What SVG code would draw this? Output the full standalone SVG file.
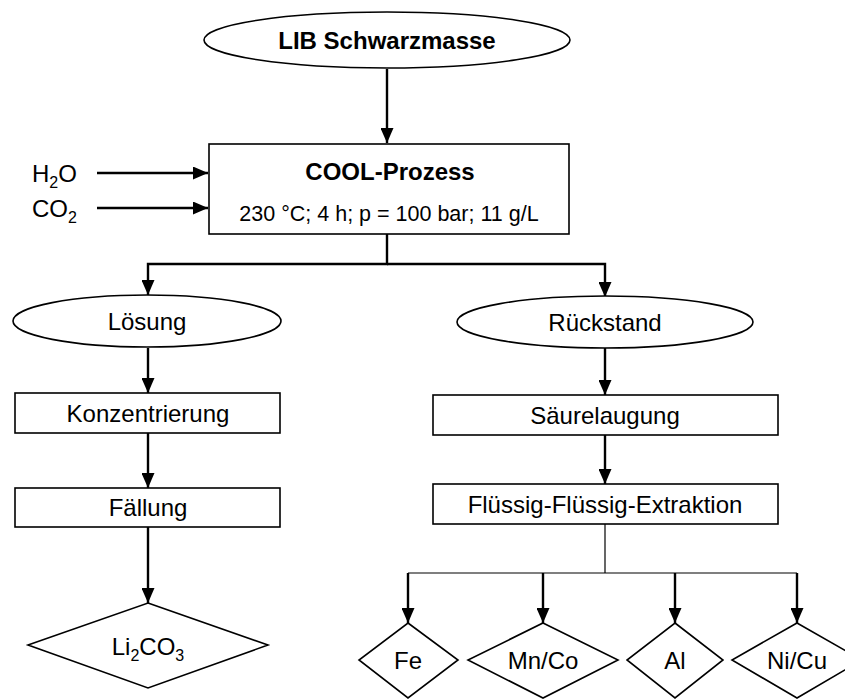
<svg xmlns="http://www.w3.org/2000/svg" width="845" height="700" viewBox="0 0 845 700">
<style>
  .shape { fill: #fff; stroke: #000; stroke-width: 1.6; }
  .t { font-family: "Liberation Sans", Arial, sans-serif; font-size: 24px; fill: #000; text-anchor: middle; }
  .b { font-weight: bold; }
  .s { font-family: "Liberation Sans", Arial, sans-serif; font-size: 21.5px; fill: #000; text-anchor: middle; }
  .l { font-family: "Liberation Sans", Arial, sans-serif; font-size: 24px; fill: #000; }
  .sub { font-size: 16px; }
  .c { fill: none; stroke: #000; stroke-width: 2.4; }
  .thin { fill: none; stroke: #000; stroke-width: 1.2; }
</style>
<defs>
  <marker id="ah" markerWidth="15" markerHeight="13" refX="15" refY="6.5" orient="auto" markerUnits="userSpaceOnUse">
    <path d="M0,0 L15,6.5 L0,13 z" fill="#000"/>
  </marker>
</defs>
<rect width="845" height="700" fill="#fff"/>

<g id="connectors">
  <path class="c" d="M387,69 V143" marker-end="url(#ah)"/>
  <path class="c" d="M97,173 H208" marker-end="url(#ah)"/>
  <path class="c" d="M97,208 H208" marker-end="url(#ah)"/>
  <path class="c" d="M387,234 V264 H148 V295" marker-end="url(#ah)"/>
  <path class="c" d="M387,264 H605 V297" marker-end="url(#ah)"/>
  <path class="c" d="M148,348 V393" marker-end="url(#ah)"/>
  <path class="c" d="M148,433 V488" marker-end="url(#ah)"/>
  <path class="c" d="M148,527 V603" marker-end="url(#ah)"/>
  <path class="c" d="M605,348 V395" marker-end="url(#ah)"/>
  <path class="c" d="M605,435 V484" marker-end="url(#ah)"/>
  <path class="thin" d="M605,524 V573"/>
  <path class="thin" d="M408,573 H797"/>
  <path class="c" d="M408,573 V623" marker-end="url(#ah)"/>
  <path class="c" d="M543,573 V623" marker-end="url(#ah)"/>
  <path class="c" d="M675,573 V623" marker-end="url(#ah)"/>
  <path class="c" d="M797,573 V623" marker-end="url(#ah)"/>
</g>

<g id="inputs">
  <text class="l" x="32" y="182">H<tspan class="sub" dy="6">2</tspan><tspan dy="-6">O</tspan></text>
  <text class="l" x="32" y="217">CO<tspan class="sub" dy="6">2</tspan></text>
</g>

<g id="lib">
  <ellipse class="shape" cx="387" cy="40" rx="183" ry="28"/>
  <text class="t b" x="387" y="49">LIB Schwarzmasse</text>
</g>

<g id="cool">
  <rect class="shape" x="209" y="144" width="360" height="90"/>
  <text class="t b" x="390" y="180">COOL-Prozess</text>
  <text class="s" x="389" y="221">230 °C; 4 h; p = 100 bar; 11 g/L</text>
</g>

<g id="loesung">
  <ellipse class="shape" cx="147" cy="321" rx="134" ry="26"/>
  <text class="t" x="147" y="330">Lösung</text>
</g>

<g id="rueckstand">
  <ellipse class="shape" cx="605" cy="322" rx="148" ry="26"/>
  <text class="t" x="605" y="331">Rückstand</text>
</g>

<g id="konzentrierung">
  <rect class="shape" x="15" y="393" width="265" height="40"/>
  <text class="t" x="148" y="422">Konzentrierung</text>
</g>

<g id="faellung">
  <rect class="shape" x="15" y="488" width="265" height="39"/>
  <text class="t" x="148" y="516">Fällung</text>
</g>

<g id="li2co3">
  <polygon class="shape" points="148,603 268,645 148,688 28,645"/>
  <text class="t" x="148" y="655">Li<tspan class="sub" dy="6">2</tspan><tspan dy="-6">CO</tspan><tspan class="sub" dy="6">3</tspan></text>
</g>

<g id="saeurelaugung">
  <rect class="shape" x="433" y="395" width="345" height="40"/>
  <text class="t" x="605" y="424">Säurelaugung</text>
</g>

<g id="extraktion">
  <rect class="shape" x="433" y="484" width="345" height="40"/>
  <text class="t" x="605" y="513">Flüssig-Flüssig-Extraktion</text>
</g>

<g id="fe">
  <polygon class="shape" points="408,623 458,660 408,698 359,660"/>
  <text class="t" x="408" y="669">Fe</text>
</g>

<g id="mnco">
  <polygon class="shape" points="543,623 618,660 543,698 468,660"/>
  <text class="t" x="543" y="669">Mn/Co</text>
</g>

<g id="al">
  <polygon class="shape" points="675,623 723,660 675,698 627,660"/>
  <text class="t" x="675" y="669">Al</text>
</g>

<g id="nicu">
  <polygon class="shape" points="797,623 862,660 797,698 732,660"/>
  <text class="t" x="797" y="669">Ni/Cu</text>
</g>
</svg>
